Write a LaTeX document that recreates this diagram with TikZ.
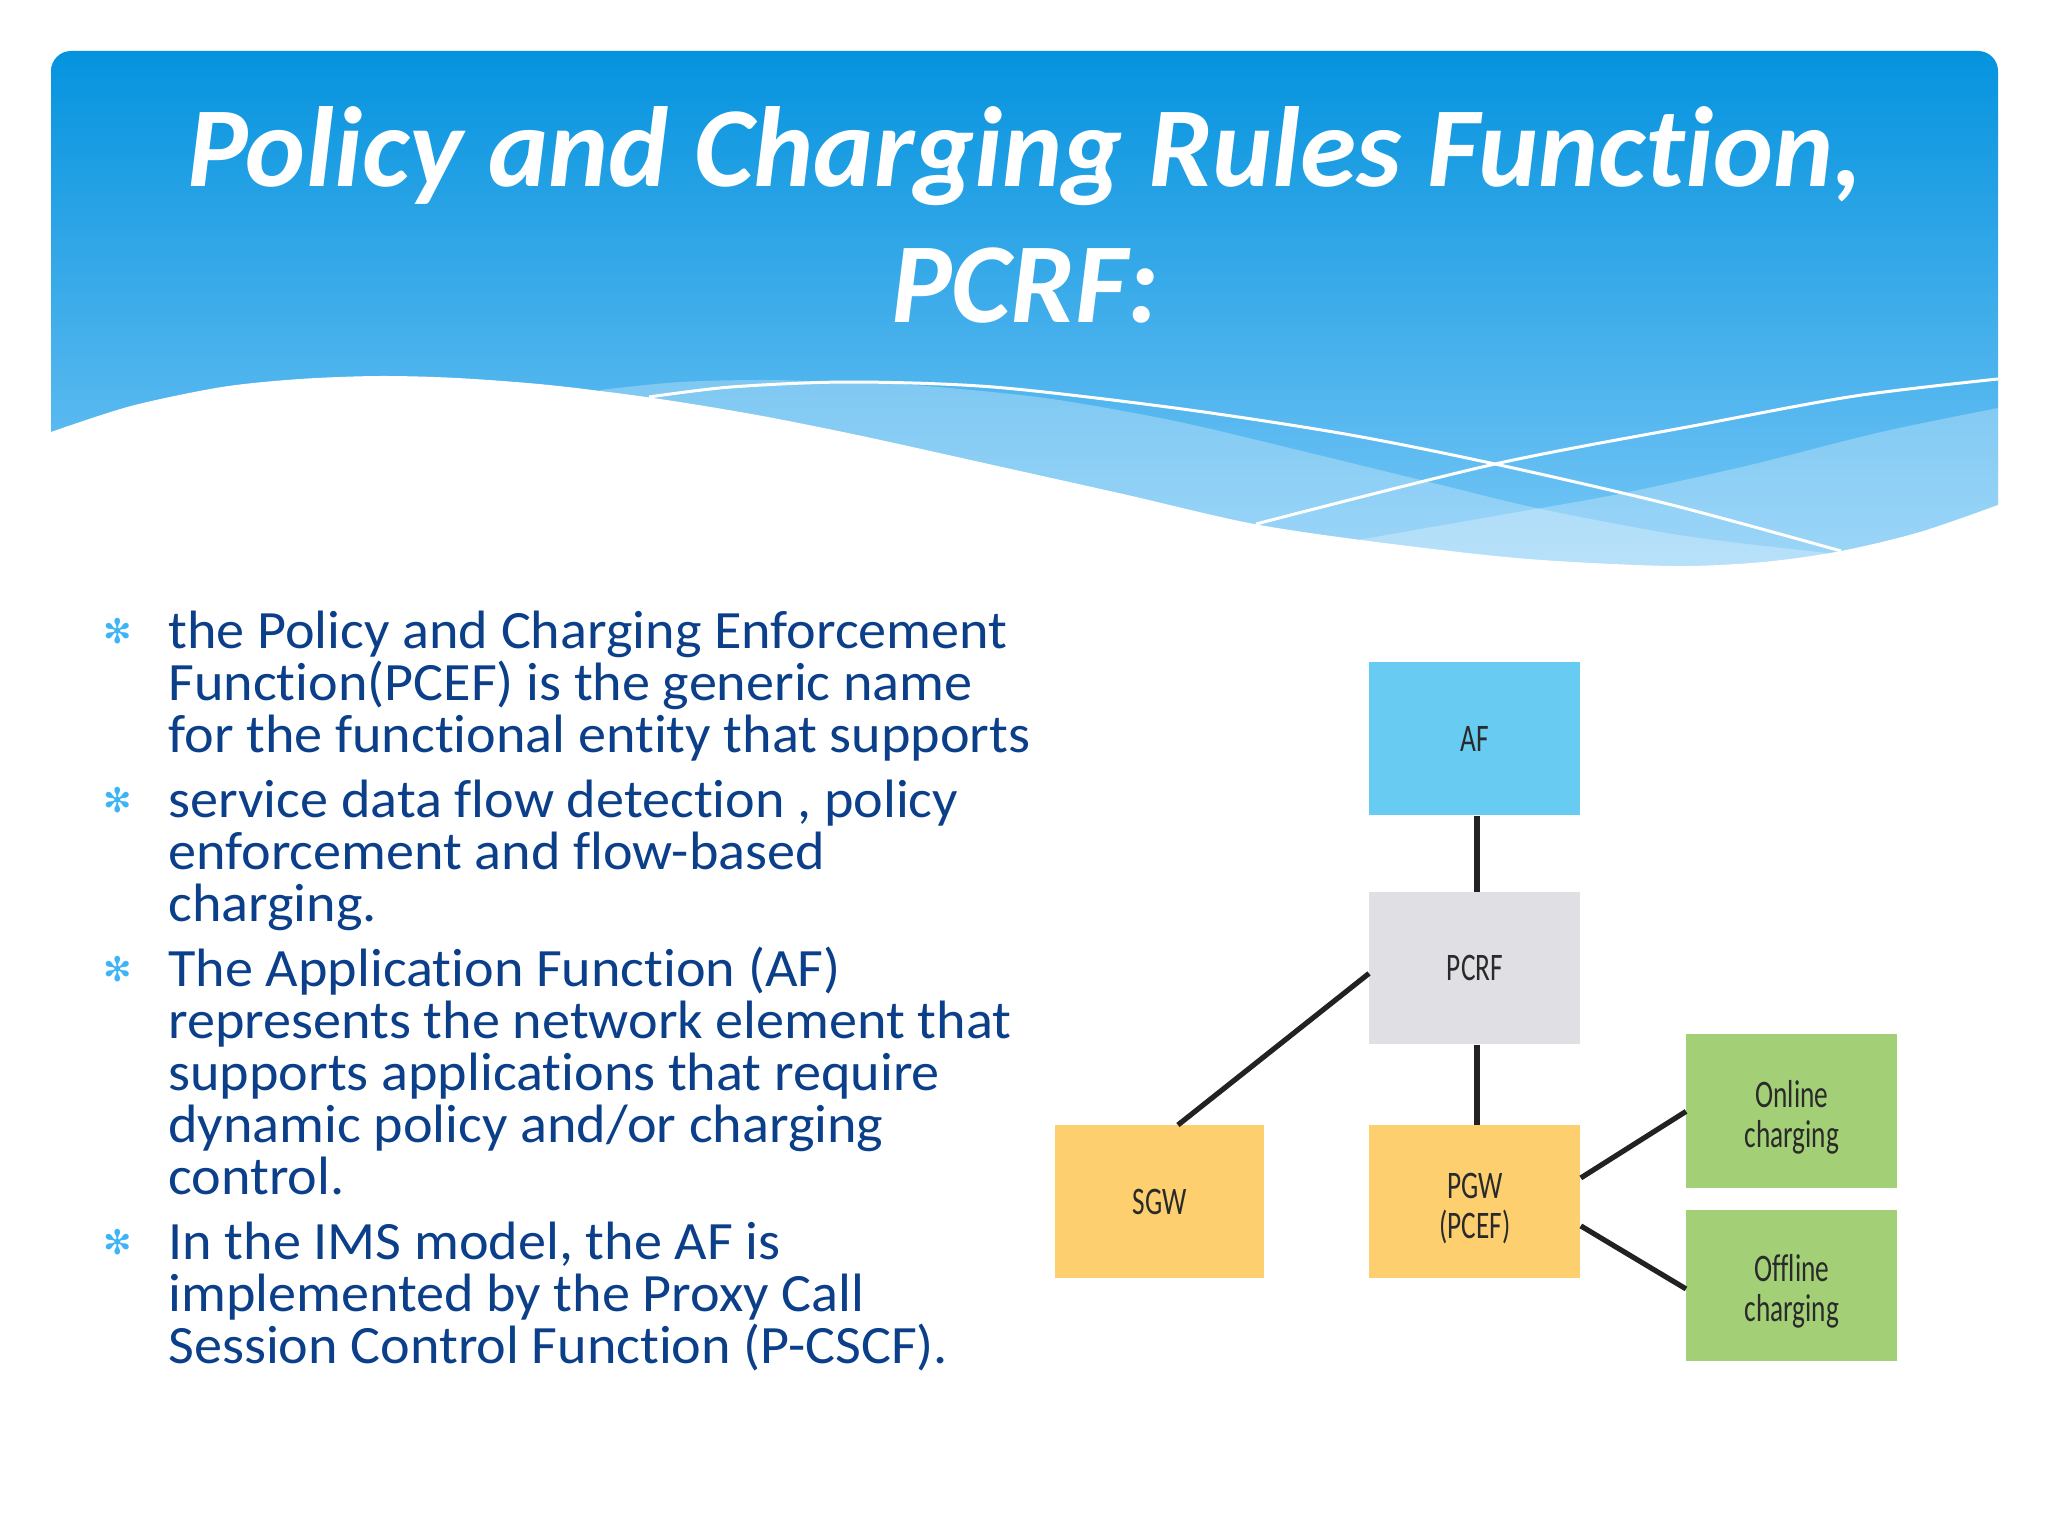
\documentclass[tikz,border=0pt]{standalone}
\usepackage{fontspec}
\setmainfont{Carlito}[Ligatures=NoCommon]
\newfontfamily\boxfont[FakeStretch=0.70,Ligatures=NoCommon]{Carlito}
\newfontfamily\bodyfont[FakeStretch=1.04,Ligatures=NoCommon]{Carlito}
\newfontfamily\symfont{DejaVu Sans}
\definecolor{bodyblue}{HTML}{0B3F8A}
\definecolor{bulletblue}{HTML}{3CB4F5}
\definecolor{topblue}{HTML}{0593DE}
\definecolor{lowblue}{HTML}{7FCAF8}
\definecolor{afblue}{HTML}{68CBF1}
\definecolor{pcrfgrey}{HTML}{E0DFE3}
\definecolor{gwyellow}{HTML}{FDCF6F}
\definecolor{chgreen}{HTML}{A3CF77}
\definecolor{linkdark}{HTML}{222222}
\definecolor{boxtext}{HTML}{2A2A2A}
\newcommand{\firstlinedrop}{\rule{0pt}{19pt}}
\tikzset{
  titletext/.style={text=white,font=\fontsize{57pt}{68pt}\selectfont\bfseries\itshape,anchor=base,inner sep=0pt},
  bodytext/.style={text=bodyblue,font=\bodyfont\fontsize{27pt}{26pt}\selectfont,anchor=base west,inner sep=0pt,align=left},
  bulletmark/.style={text=bulletblue,font=\symfont\fontsize{17pt}{17pt}\selectfont,anchor=center,inner sep=0pt},
  box/.style={draw=none,inner sep=0pt,align=center,text=boxtext,font=\boxfont\fontsize{19.5pt}{20pt}\selectfont,anchor=north west,minimum width=#1},
  box/.default=105.5pt,
  link/.style={draw=linkdark,line width=2.6pt},
  waveline/.style={draw=white,line width=1.5pt},
}
\begin{document}
\begin{tikzpicture}[x=0.5pt,y=-0.5pt]
\useasboundingbox (0,0) rectangle (2048,1536);
\fill[white] (0,0) rectangle (2048,1536);
% header
\shade[top color=topblue,bottom color=lowblue,rounded corners=10pt] (51,51) rectangle (1998,600);
\fill[white,opacity=.28] plot[smooth] coordinates {(600,390) (680,382) (770,380) (860,383) (914,385) (1045,398) (1175,421) (1306,452) (1437,484) (1541,509) (1685,536) (1828,553)} -- (1828,600) -- (600,600) -- cycle;
\fill[white,opacity=.28] plot[smooth] coordinates {(1358,540) (1489,517) (1619,494) (1750,465) (1881,432) (1998,408)} -- (1998,600) -- (1358,600) -- cycle;
\draw[waveline] plot[smooth] coordinates {(649,397) (731,387) (849,382) (993,387) (1175,408) (1345,434) (1495,464) (1672,505) (1841,551)};
\draw[waveline] plot[smooth] coordinates {(1256,524) (1495,464) (1698,425) (1855,396) (1998,379)};
\fill[white] plot[smooth] coordinates {(51,432) (131,406) (222,387) (300,379) (379,376) (457,378) (549,385) (653,398) (757,415) (862,436) (993,465) (1123,494) (1254,524) (1384,543) (1528,559) (1672,566) (1763,562) (1841,551) (1920,532) (1998,505)} -- (2048,490) -- (2048,640) -- (0,640) -- (0,450) -- cycle;
% title
\node[titletext] (t1) at (1025,186) {Policy and Charging Rules Function,};
\node[titletext] (t2) at (1025,322) {PCRF:};
% bullets
\node[bulletmark] (b1) at (118,631) {✻};
\node[bulletmark] (b2) at (118,800) {✻};
\node[bulletmark] (b3) at (118,969) {✻};
\node[bulletmark] (b4) at (118,1242) {✻};
\node[bodytext] (p1) at (168,752) {the Policy and Charging Enforcement\\Function(PCEF) is the generic name\\for the functional entity that supports};
\node[bodytext] (p2) at (168,921) {service data flow detection , policy\\enforcement and flow-based\\charging.};
\node[bodytext] (p3) at (168,1194) {The Application Function (AF)\\represents the network element that\\supports applications that require\\dynamic policy and/or charging\\control.};
\node[bodytext] (p4) at (168,1363) {In the IMS model, the AF is\\implemented by the Proxy Call\\Session Control Function (P-CSCF).};
% boxes
\node[box,fill=afblue,minimum height=76.5pt] (af) at (1369,662) {AF};
\node[box,fill=pcrfgrey,minimum height=76pt] (pcrf) at (1369,892) {PCRF};
\node[box,fill=gwyellow,minimum height=76.5pt] (pgw) at (1369,1125) {\firstlinedrop PGW\\(PCEF)};
\node[box=104.5pt,fill=gwyellow,minimum height=76.5pt] (sgw) at (1055,1125) {SGW};
\node[box,fill=chgreen,minimum height=77pt] (on) at (1686,1034) {\firstlinedrop Online\\charging};
\node[box,fill=chgreen,minimum height=75.5pt] (off) at (1686,1210) {\firstlinedrop Offline\\charging};
% connectors
\draw[link] ([xshift=1pt]af.south) -- ([xshift=1pt]pcrf.north);
\draw[link] ([xshift=1pt]pcrf.south) -- ([xshift=1pt]pgw.north);
\draw[link] ([xshift=9pt]sgw.north) -- ([yshift=-2.5pt]pcrf.west);
\draw[link] ([yshift=12pt]pgw.east) -- (on.west);
\draw[link] ([yshift=-12pt]pgw.east) -- ([yshift=-1.5pt]off.west);
\end{tikzpicture}
\end{document}
